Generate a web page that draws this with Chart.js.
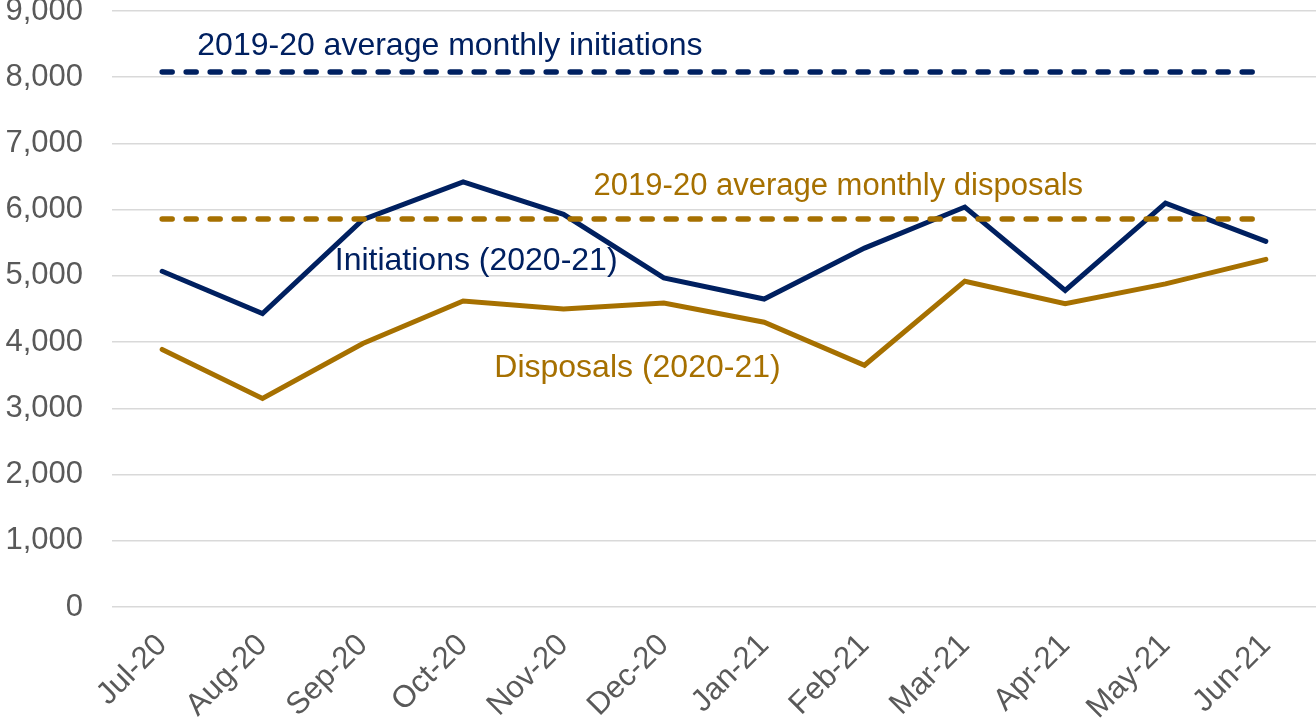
<!DOCTYPE html>
<html lang="en">
<head>
    <meta charset="UTF-8">
    <title>Initiations and disposals</title>
    <script src="https://cdn.jsdelivr.net/npm/chart.js"></script>
    <style>
        * { margin: 0; padding: 0; box-sizing: border-box; }
        body { width: 1316px; height: 719px; background: #fff; overflow: hidden; }
        .chart-container { width: 1316px; height: 719px; }
    </style>
</head>
<body>
    <div class="chart-container">
        <canvas id="myChart"></canvas>
    </div>
    <script>
        const months = ['Jul-20', 'Aug-20', 'Sep-20', 'Oct-20', 'Nov-20', 'Dec-20',
                        'Jan-21', 'Feb-21', 'Mar-21', 'Apr-21', 'May-21', 'Jun-21'];
        const initiations = [5070, 4430, 5850, 6420, 5930, 4970, 4650, 5420, 6040, 4780, 6100, 5520];
        const disposals = [3890, 3150, 3980, 4620, 4500, 4590, 4300, 3650, 4920, 4580, 4880, 5250];
        const avgInitiations = 8080;
        const avgDisposals = 5860;
        const yTicks = [0, 1000, 2000, 3000, 4000, 5000, 6000, 7000, 8000, 9000];

        const navy = '#002060';
        const gold = '#A67000';
        const font = 'Arial, "Liberation Sans", sans-serif';

        // text labels placed on the plot, positioned through the scales
        const notes = [
            { text: '2019-20 average monthly initiations', x: 0.35, y: 8336, color: navy, size: 32 },
            { text: '2019-20 average monthly disposals', x: 4.30, y: 6222, color: gold, size: 31 },
            { text: 'Initiations (2020-21)', x: 1.72, y: 5089, color: navy, size: 32 },
            { text: 'Disposals (2020-21)', x: 3.31, y: 3473, color: gold, size: 32 }
        ];

        const notesPlugin = {
            id: 'notes',
            afterDatasetsDraw(chart) {
                const ctx = chart.ctx;
                const xs = chart.scales.x, ys = chart.scales.y;
                ctx.save();
                ctx.textAlign = 'left';
                ctx.textBaseline = 'alphabetic';
                notes.forEach(n => {
                    ctx.font = n.size + 'px ' + font;
                    ctx.fillStyle = n.color;
                    ctx.fillText(n.text, xs.getPixelForValue(n.x), ys.getPixelForValue(n.y));
                });
                ctx.restore();
            }
        };

        new Chart(document.getElementById('myChart'), {
            type: 'line',
            data: {
                labels: months,
                datasets: [
                    {
                        label: 'Average initiations',
                        data: months.map(() => avgInitiations),
                        borderColor: navy,
                        borderWidth: 5.5,
                        borderDash: [10, 14],
                        borderCapStyle: 'round',
                        pointRadius: 0
                    },
                    {
                        label: 'Average disposals',
                        data: months.map(() => avgDisposals),
                        borderColor: gold,
                        borderWidth: 5.5,
                        borderDash: [10, 14],
                        borderCapStyle: 'round',
                        pointRadius: 0
                    },
                    {
                        label: 'Initiations (2020-21)',
                        data: initiations,
                        borderColor: navy,
                        borderWidth: 5,
                        borderCapStyle: 'round',
                        borderJoinStyle: 'miter',
                        pointRadius: 0
                    },
                    {
                        label: 'Disposals (2020-21)',
                        data: disposals,
                        borderColor: gold,
                        borderWidth: 5,
                        borderCapStyle: 'round',
                        borderJoinStyle: 'miter',
                        pointRadius: 0
                    }
                ]
            },
            options: {
                responsive: true,
                maintainAspectRatio: false,
                animation: false,
                layout: { padding: 0 },
                plugins: {
                    legend: { display: false },
                    tooltip: { enabled: false }
                },
                scales: {
                    x: {
                        offset: true,
                        grid: { display: false },
                        border: { display: false },
                        ticks: {
                            color: '#595959',
                            font: { family: font, size: 31 },
                            minRotation: 45,
                            maxRotation: 45,
                            padding: 12
                        },
                        afterFit(scale) { scale.height = 112; }
                    },
                    y: {
                        min: 0,
                        max: 9000,
                        afterBuildTicks(scale) { scale.ticks = yTicks.map(v => ({ value: v })); },
                        grid: { color: '#d9d9d9', lineWidth: 1.5, drawTicks: false },
                        border: { display: false },
                        ticks: {
                            color: '#595959',
                            font: { family: font, size: 31 },
                            padding: 29,
                            callback: v => v.toLocaleString('en-GB')
                        },
                        afterFit(scale) {
                            scale.width = 112;
                            scale.paddingTop = 11;
                            scale.paddingBottom = 0;
                        }
                    }
                }
            },
            plugins: [notesPlugin]
        });
    </script>
</body>
</html>
